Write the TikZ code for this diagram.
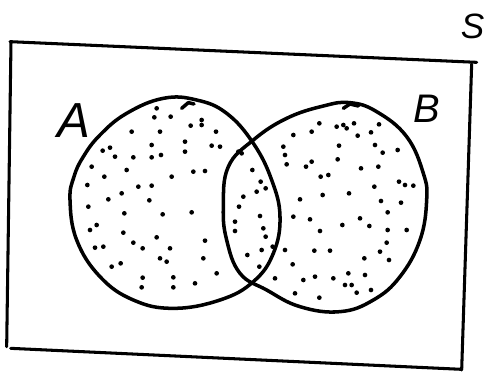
\documentclass[tikz,border=0pt]{standalone}
\usepackage{fontspec}
\setsansfont{Liberation Sans}

\begin{document}
\begin{tikzpicture}[x=0.01cm, y=-0.01cm,
  outline/.style={line width=3pt, line join=round, line cap=round},
  frame/.style={line width=2.6pt, line cap=round},
  setlabel/.style={font=\sffamily\itshape, inner sep=0pt},
  speck/.style={fill=black}
]
\useasboundingbox (0,0) rectangle (1470,1119);

% Universe S
\draw[frame] (30,125) -- (1430,187);
\draw[frame] (1415,192) -- (1385,1110);
\draw[frame] (32,1045) -- (1385,1108);
\draw[frame] (33,125) -- (20,1040);
\node[setlabel, font=\sffamily\itshape\fontsize{30}{30}\selectfont] (labS) at (1418,80) {S};

% Set A
\draw[outline] plot[smooth cycle, tension=0.7] coordinates {
  (210,600) (222,530) (250,470) (300,405) (380,340) (490,295) (590,300)
  (680,340) (760,430) (815,540) (840,650) (820,760) (760,845) (660,900)
  (520,925) (400,900) (300,830) (230,720)};
\draw[outline] (545,325) -- (565,308) -- (582,312);
\node[setlabel, font=\sffamily\itshape\fontsize{42}{42}\selectfont] (labA) at (222,362) {A};

% Set B
\draw[outline] plot[smooth cycle, tension=0.7] coordinates {
  (670,620) (685,500) (760,420) (860,355) (970,318) (1050,308) (1130,335)
  (1220,410) (1270,520) (1280,600) (1260,720) (1200,830) (1120,900) (1020,935)
  (900,920) (800,870) (720,820) (680,720)};
\draw[outline] (1030,325) -- (1050,312) -- (1075,318);
\node[setlabel, font=\sffamily\itshape\fontsize{34}{34}\selectfont] (labB) at (1280,325) {B};

% Shading dots, A
\foreach \x/\y in {470/325,463/352,512/350,605/360,605/375,572/377,395/395,480/395,
  648/395,455/435,555/425,635/437,660/440,330/443,308/452,345/470,400/472,
  455/472,483/465,555/455,725/460,715/455,275/500,380/510,580/515,615/513,
  515/530,313/530,262/555,415/560,455/557,365/580,325/598,448/601,265/620,
  373/640,488/643,575/637,290/675,270/690,370/698,470/712,400/728,615/722,
  285/743,310/740,428/745,510/745,480/775,500/785,610/775,335/800,362/790,
  650/820,428/833,520/832,425/862,520/862,585/850}
  \fill[speck] (\x,\y) circle (2pt);

% Shading dots, A and B
\foreach \x/\y in {757/510,782/545,770/575,797/565,730/590,717/620,780/648,
  705/665,790/685,705/693,797/710,818/740,785/750,742/765,778/800}
  \fill[speck] (\x,\y) circle (2pt);

% Shading dots, B
\foreach \x/\y in {850/440,880/405,935/395,958/370,1010/380,1030/375,1062/370,
  1040/385,1073/407,1113/397,1137/373,1017/437,1125/435,1148/458,1193/450,
  855/465,860/493,935/485,918/500,1013/478,1083/505,1135/500,962/530,985/525,
  1197/545,1240/557,1215/555,1123/560,1047/580,968/585,900/598,1143/603,
  1203/608,880/650,930/658,1027/675,1080/655,1163/637,1108/678,1163/690,
  1220/690,960/693,855/750,943/752,990/752,1093/775,1140/755,1167/780,
  1160/728,878/793,825/835,910/840,945/830,1000/835,1045/820,1095/825,
  1035/855,1055/855,1070/878,1113/870,885/880,958/893}
  \fill[speck] (\x,\y) circle (2pt);

\end{tikzpicture}
\end{document}
